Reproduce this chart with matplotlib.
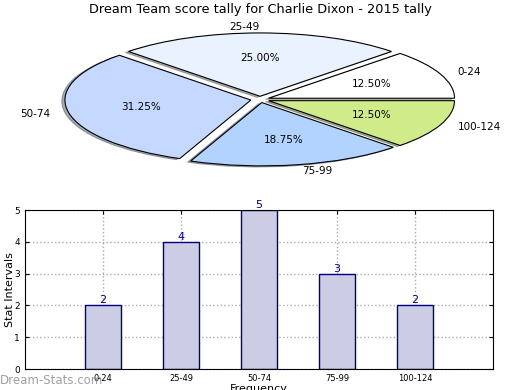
import matplotlib
matplotlib.use('Agg')
import matplotlib.pyplot as plt

intervals = ['0-24', '25-49', '50-74', '75-99', '100-124']
counts = [2, 4, 5, 3, 2]
pie_colors = ['#ffffff', '#eaf1ff', '#c5d8ff', '#b3d3ff', '#d0eb89']

fig = plt.figure(figsize=(5.2, 3.9), dpi=100)

# pie on top, squashed into an ellipse like the original
ax1 = fig.add_axes([0.053, 0.542, 0.894, 0.406])
ax1.pie(counts, labels=intervals, colors=pie_colors, explode=[0.05] * 5,
        autopct='%.2f%%', shadow={'ox': -0.012, 'oy': -0.012, 'shade': 0.6},
        startangle=0,
        wedgeprops={'edgecolor': 'black', 'linewidth': 0.8},
        textprops={'fontsize': 7.5})
ax1.set_aspect('auto')
ax1.set_xlim(-1.25, 1.25)
ax1.set_ylim(-1.25, 1.25)
fig.text(0.5, 1 - 10 / 390, 'Dream Team score tally for Charlie Dixon - 2015 tally',
         ha='center', va='center', fontsize=9.3)

# bar chart below
ax2 = fig.add_axes([0.048, 0.0538, 0.9, 0.4077])
x = range(len(intervals))
ax2.bar(x, counts, width=0.46, color='#ccccE5', edgecolor='navy', linewidth=1)
for i, c in zip(x, counts):
    ax2.text(i, c, str(c), ha='center', va='bottom', color='navy', fontsize=8)
ax2.set_xlim(-1, 5)
ax2.set_ylim(0, 5)
ax2.set_xticks(list(x))
ax2.set_xticklabels(intervals, fontsize=6)
ax2.set_yticks(range(6))
ax2.tick_params(axis='y', labelsize=6.5)
ax2.tick_params(direction='in', top=True, right=True, length=3)
ax2.grid(True, linestyle=':', color='#aaaaaa', linewidth=1)
ax2.set_axisbelow(True)
ax2.set_ylabel('Stat Intervals', fontsize=8)
ax2.yaxis.set_label_coords(-0.022, 0.5)
ax2.set_xlabel('Frequency', fontsize=8, labelpad=1)

fig.text(0.0, 1 - 381 / 390, 'Dream-Stats.com', color='#888888', alpha=0.8,
         fontsize=8.5, ha='left', va='center')

fig.savefig('out.png', dpi=100)
